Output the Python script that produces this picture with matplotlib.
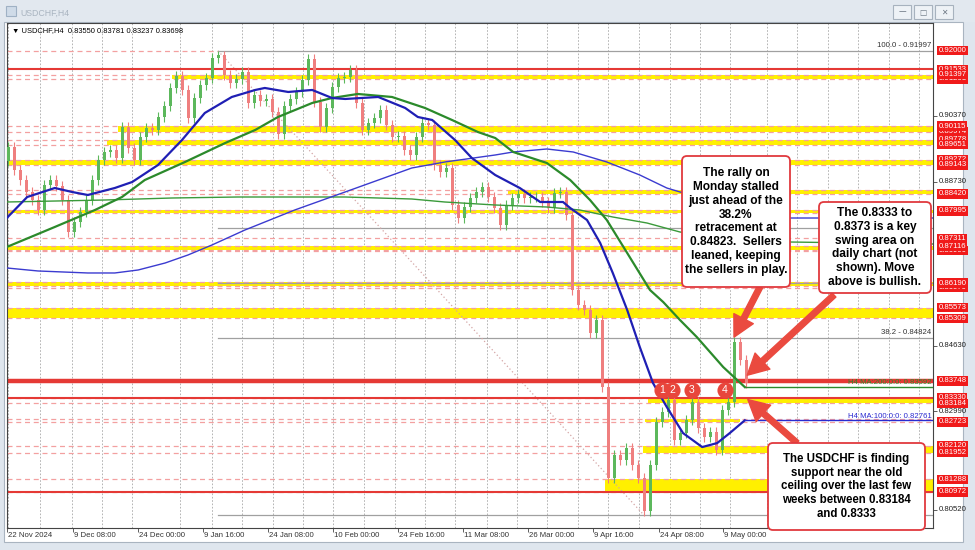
import numpy as np
import matplotlib.pyplot as plt
import matplotlib.transforms as mtransforms
from matplotlib.patches import Rectangle, FancyBboxPatch

plt.rcParams['font.family'] = ['Liberation Sans', 'DejaVu Sans']

W, H = 975, 550
BAR_PX, BAR0_PX = 6, 8   # one drawn candle every 6 px, first one at x=8

# USDCHF H4, closes (one per ~6 px column)
closes = [
    0.8959, 0.8902, 0.8877, 0.8847, 0.8827, 0.8802, 0.8864, 0.8877, 0.8862, 0.8827,
    0.8747, 0.8772, 0.8797, 0.8827, 0.8877, 0.8927, 0.8947, 0.8952, 0.8932, 0.9009,
    0.8957, 0.8927, 0.8984, 0.9007, 0.9002, 0.9034, 0.9062, 0.9107, 0.9137, 0.9102,
    0.9032, 0.9082, 0.9114, 0.9132, 0.9182, 0.9188, 0.9139, 0.9119, 0.9129, 0.9147,
    0.9069, 0.9089, 0.9074, 0.9079, 0.9047, 0.8992, 0.9062, 0.9079, 0.9097, 0.9127,
    0.9180, 0.9072, 0.9009, 0.9057, 0.9109, 0.9132, 0.9134, 0.9152, 0.9069, 0.9002,
    0.9019, 0.9032, 0.9052, 0.9014, 0.8984, 0.8987, 0.8952, 0.8939, 0.8984, 0.9019,
    0.9014, 0.8914, 0.8897, 0.8907, 0.8814, 0.8782, 0.8809, 0.8832, 0.8847, 0.8859,
    0.8834, 0.8807, 0.8764, 0.8814, 0.8832, 0.8842, 0.8832, 0.8834, 0.8834, 0.8822,
    0.8807, 0.8844, 0.8847, 0.8789, 0.8602, 0.8564, 0.8552, 0.8494, 0.8527, 0.8359,
    0.8132, 0.8189, 0.8177, 0.8207, 0.8164, 0.8132, 0.8050, 0.8164, 0.8272, 0.8297,
    0.8327, 0.8227, 0.8244, 0.8277, 0.8322, 0.8257, 0.8234, 0.8247, 0.8202, 0.8302,
    0.8322, 0.8472, 0.8427, 0.8370,
]
first_open = 0.8925
wick = 0.0012

# moving averages (bar index, price)
ma100_bars = [-0.2, 3.2, 7.8, 10.7, 13.3, 17.8, 20.7, 25.0, 29.0, 32.8, 37.3, 41.2, 42.8,
              46.7, 50.7, 54.0, 56.2, 61.7, 66.2, 68.3, 70.7, 74.5, 77.3, 81.2, 85.3,
              88.7, 92.5, 93.7, 96.5, 98.7, 100.8, 103.2, 105.3, 107.5, 109.8, 112.5,
              115.7, 118.2, 120.3, 122.8]
ma100_vals = [0.87818, 0.88343, 0.88568, 0.88468, 0.88393, 0.88568, 0.88718, 0.89143,
              0.89768, 0.90443, 0.90843, 0.91018, 0.91068, 0.90968, 0.91018, 0.90818,
              0.90793, 0.90843, 0.90568, 0.90343, 0.90268, 0.89768, 0.89318, 0.88893,
              0.88568, 0.88218, 0.88218, 0.88068, 0.87768, 0.87193, 0.86443, 0.85518,
              0.84593, 0.83693, 0.83093, 0.82443, 0.82093, 0.82193, 0.82443, 0.82761]
ma200_bars = [-0.2, 7.8, 14.5, 19.0, 22.8, 29.5, 36.2, 41.2, 45.0, 50.7, 54.0, 58.3, 64.0,
              69.5, 74.0, 78.3, 81.2, 84.2, 89.8, 93.7, 97.0, 99.8, 103.2, 107.0, 109.2,
              112.0, 114.8, 119.2, 122.8]
ma200_vals = [0.87094, 0.87594, 0.88019, 0.88343, 0.88768, 0.89218, 0.89693, 0.90018,
              0.90343, 0.90693, 0.90818, 0.90918, 0.90843, 0.90568, 0.90268, 0.89968,
              0.89818, 0.89468, 0.89193, 0.88768, 0.88268, 0.87768, 0.86943, 0.86018,
              0.85718, 0.85268, 0.84843, 0.84093, 0.83592]
d_ma_blue_bars = [-0.2, 5.0, 13.3, 17.8, 21.7, 26.2, 30.0, 34.0, 39.5, 47.8, 56.2, 67.3,
                  72.8, 81.2, 84.2, 89.8, 94.2, 99.8, 105.3, 109.8, 112.0, 118.7, 125.3,
                  130.3, 154.2]
d_ma_blue_vals = [0.86569, 0.86494, 0.86444, 0.86444, 0.86519, 0.86694, 0.86894, 0.87144,
                  0.87519, 0.88019, 0.88469, 0.89068, 0.89218, 0.89393, 0.89468, 0.89543,
                  0.89468, 0.89218, 0.88893, 0.88568, 0.88468, 0.88193, 0.87943, 0.87818,
                  0.87818]
d_ma_green_bars = [-0.2, 16.2, 27.3, 38.3, 56.2, 67.3, 72.8, 81.2, 89.8, 95.3, 100.8,
                   106.5, 112.0, 118.7, 130.3, 154.2]
d_ma_green_vals = [0.88218, 0.88268, 0.88318, 0.88343, 0.88343, 0.88293, 0.88218, 0.88143,
                   0.88093, 0.88018, 0.87843, 0.87693, 0.87468, 0.87318, 0.87218, 0.87168]

# fibonacci retracement of the Jan high -> Apr low
fib_hi, fib_lo = 0.91997, 0.80390
fib_ratios = [0.0, 0.382, 0.5, 0.618, 1.0]
fib_labelled = [0.382, 1.0]   # the others sit behind the note boxes

# yellow zones: (low, high, first bar, last bar)  None = chart edge
zones = [
    (0.91293, 0.91397, 27.3, None), (0.89974, 0.90115, 18.3, None),
    (0.89651, 0.89778, 16.5, None), (0.89143, 0.89272, None, None),
    (0.88420, 0.88520, 83.3, None), (0.87940, 0.88030, None, None),
    (0.87020, 0.87116, None, None), (0.86110, 0.86215, None, None),
    (0.85309, 0.85573, None, None), (0.83184, 0.83330, 106.7, None),
    (0.82723, 0.82790, 106.2, 122.0), (0.81952, 0.82120, 105.8, None),
    (0.80972, 0.81288, 99.5, None),
]
extra_dashed = [0.87311, 0.86999, 0.86079]
red_lines = [(0.91533, 1.5), (0.83748, 3.2), (0.83330, 1.5), (0.80972, 1.5)]
key_top, key_ceiling = 0.83748, 0.83330
touch_bars = [109, 110.7, 114, 119.5]

date_labels = ["22 Nov 2024", "9 Dec 08:00", "24 Dec 00:00", "9 Jan 16:00", "24 Jan 08:00",
               "10 Feb 00:00", "24 Feb 16:00", "11 Mar 08:00", "26 Mar 00:00",
               "9 Apr 16:00", "24 Apr 08:00", "9 May 00:00"]
date_px = [7, 73, 138, 203, 268, 333, 398, 463, 528, 593, 659, 723]
week_px = [8, 40, 72, 102, 132, 180, 212, 242, 273, 303, 333, 364, 395, 425, 455, 487,
           517, 547, 578, 608, 639, 670, 700, 730, 767, 797, 828, 858, 889, 919]

grid_prices = [0.90370, 0.88730, 0.84630, 0.82990, 0.80520]
red_back = [0.91533, 0.91293, 0.89974, 0.89778, 0.89272, 0.86999, 0.86079, 0.83330]
red_front = [0.92000, 0.91397, 0.90115, 0.89651, 0.89143, 0.88420, 0.87995, 0.87311,
             0.87116, 0.86190, 0.85573, 0.85309, 0.83748, 0.83184, 0.82723, 0.82120,
             0.81952, 0.81288, 0.80972]

RED = '#e53935'
ARROW = '#ea4a3f'


def bx(px):
    return (px - BAR0_PX) / BAR_PX


fig = plt.figure(figsize=(W / 100, H / 100), dpi=100, facecolor='#dfe6ee')
pix = mtransforms.Affine2D().scale(1 / W, 1 / H) + fig.transFigure  # pixels, y up


def prect(x, y, w, h, **kw):
    fig.add_artist(Rectangle((x, H - y - h), w, h, transform=pix, **kw))


# window chrome
prect(0, 0, W, 22, fc='#e2e8ef', ec='none', zorder=-5)
prect(6, 6, 10, 10, fc='#cfdbe8', ec='#9fb1c4', lw=0.8, zorder=-4)
fig.text(20 / W, 1 - 13 / H, "USDCHF,H4", fontsize=6.3, color='#a9b4c0', va='center')
for i, sym in enumerate(['\u2014', '\u25a1', '\u2715']):
    prect(893 + i * 21, 5, 18, 14, fc='#eef2f6', ec='#a7b2be', lw=0.8, zorder=-4)
    fig.text((902 + i * 21) / W, 1 - 12 / H, sym, fontsize=5.5, color='#6b7682',
             ha='center', va='center', family=['DejaVu Sans'])
prect(4, 22, 959, 520, fc='white', ec='#a9b4c0', lw=0.8, zorder=-3)

ax = fig.add_axes([7 / W, 1 - 528 / H, (933 - 7) / W, (528 - 23) / H])
ax.set_xlim(bx(7), bx(933))
ax.set_ylim(0.80070, 0.92692)
for s in ax.spines.values():
    s.set_color('#444444')
    s.set_linewidth(0.8)
ax.set_xticks([bx(p) for p in date_px])
ax.set_yticks(grid_prices)
ax.tick_params(axis='x', length=3, width=0.6, color='#444444', labelbottom=False)
ax.tick_params(axis='y', left=False, right=True, length=3, width=0.6, color='#444444',
               labelleft=False)

# weekly grid
for p in week_px:
    ax.axvline(bx(p), color='#a8a8a8', lw=0.6, ls=(0, (2, 2)), zorder=0.5)

# yellow zones with dashed borders
x_left, x_right = ax.get_xlim()
for lo, hi, b0, b1 in zones:
    a = x_left if b0 is None else b0
    b = x_right if b1 is None else b1
    ax.fill_between([a, b], lo, hi, color='#fff000', lw=0, zorder=1)
    for lv in (lo, hi):
        ax.axhline(lv, color='#f3a0a0', lw=0.9, ls=(0, (4, 3)), zorder=1.2)
for lv in extra_dashed:
    ax.axhline(lv, color='#f3a0a0', lw=0.9, ls=(0, (4, 3)), zorder=1.2)

# fibonacci
hi_i = int(np.argmax(closes))
lo_i = int(np.argmin(closes))
ax.plot([x_left, hi_i], [fib_hi, fib_hi], color='#f3a0a0', lw=0.9, ls=(0, (4, 3)), zorder=1.2)
for r in fib_ratios:
    lv = fib_lo + r * (fib_hi - fib_lo)
    ax.plot([hi_i, x_right], [lv, lv], color='#a0a0a0', lw=0.9, zorder=1.3)
    if r in fib_labelled:
        ax.text(0.998, lv + 0.0004, f"{r * 100:.1f} - {lv:.5f}",
                transform=ax.get_yaxis_transform(), ha='right', va='bottom',
                fontsize=5.6, color='#333333', zorder=1.4)
ax.plot([hi_i, lo_i], [fib_hi, fib_lo], color='#d4a5a5', lw=0.9, ls=(0, (1, 2)), zorder=1.3)

for lv, w in red_lines:
    ax.axhline(lv, color=RED, lw=w, zorder=2.5)

# candles
opens = [first_open] + closes[:-1]
for i, (o, c) in enumerate(zip(opens, closes)):
    col = '#5cb85c' if c >= o else '#ef7f7f'
    ax.vlines(i, min(o, c) - wick, max(o, c) + wick, color=col, lw=0.8, zorder=3)
    ax.bar(i, max(abs(c - o), 0.00012), bottom=min(o, c), width=0.5, color=col, lw=0, zorder=3)

# moving averages
ax.plot(d_ma_green_bars, d_ma_green_vals, color='#3a9a3a', lw=1.0, zorder=3.5)
ax.plot(d_ma_blue_bars, d_ma_blue_vals, color='#3b3bd0', lw=1.0, zorder=3.5)
ax.plot(ma200_bars, ma200_vals, color='#2b8a2b', lw=1.6, zorder=4)
ax.plot(ma100_bars, ma100_vals, color='#1f1fb4', lw=1.6, zorder=4)
ax.plot([ma200_bars[-1], x_right], [ma200_vals[-1]] * 2, color='#2b8a2b', lw=1.0, zorder=4)
ax.plot([ma100_bars[-1], x_right], [ma100_vals[-1]] * 2, color='#2a2ad0', lw=1.0, zorder=4)
ax.text(0.999, ma200_vals[-1] + 0.0002, f"H4 MA:200:0:0: {ma200_vals[-1]:.5f}",
        transform=ax.get_yaxis_transform(), ha='right', va='bottom', fontsize=5.6,
        color='#2b8a2b', zorder=4)
ax.text(0.999, ma100_vals[-1] + 0.0002, f"H4 MA:100:0:0: {ma100_vals[-1]:.5f}",
        transform=ax.get_yaxis_transform(), ha='right', va='bottom', fontsize=5.6,
        color='#2a2ad0', zorder=4)

# header
ax.text(0.005, 0.986, "\u25bc USDCHF,H4  0.83550 0.83781 0.83237 0.83698", transform=ax.transAxes,
        ha='left', va='center', fontsize=5.4, color='black', zorder=6)

# touches of the old ceiling
for n, b in enumerate(touch_bars, start=1):
    ax.scatter([b], [key_ceiling + 0.0019], s=135, color='#e8463c', zorder=6, lw=0)
    ax.text(b, key_ceiling + 0.0019, str(n), color='white', fontsize=7.5, ha='center',
            va='center', zorder=7)

# right-hand price labels
ytr = ax.get_yaxis_transform()
for p in grid_prices:
    ax.text(1.006, p, f"{p:.5f}", transform=ytr, ha='left', va='center', fontsize=5.6,
            color='#222222', clip_on=False)
for p in red_back + red_front:
    ax.text(1.006, p, f"{p:.5f}", transform=ytr, ha='left', va='center', fontsize=5.6,
            color='white', clip_on=False,
            bbox=dict(boxstyle='square,pad=0.15', fc='#f01a1a', ec='none'))

# dates
xtr = ax.get_xaxis_transform()
for lab, p in zip(date_labels, date_px):
    ax.text(bx(p) + 0.1, -0.008, lab, transform=xtr, ha='left', va='top', fontsize=5.6,
            color='#333333', clip_on=False)

# arrows (from the text boxes to the price action)
last_i = len(closes) - 1
spike_i = int(np.argmax(closes[-6:])) + len(closes) - 6
arrows = [((760, 287), (spike_i, closes[spike_i] + wick)),
          ((834, 295), (last_i + 0.2, key_top + 0.0014)),
          ((797, 443), (last_i + 0.3, key_ceiling - 0.0005))]
for (sx, sy), xy in arrows:
    ax.annotate('', xy=xy, xycoords='data', xytext=(sx / W, 1 - sy / H),
                textcoords='figure fraction', annotation_clip=False, zorder=8,
                arrowprops=dict(arrowstyle='simple,head_length=1.0,head_width=1.05,tail_width=0.27',
                                color=ARROW, mutation_scale=15, shrinkA=0, shrinkB=0))

# text boxes
boxes = [
    ((682, 156, 790, 287), "The rally on\nMonday stalled\njust ahead of the\n38.2%\nretracement at\n"
     "0.84823.  Sellers\nleaned, keeping\nthe sellers in play.", 8.6),
    ((819, 202, 931, 293), "The 0.8333 to\n0.8373 is a key\nswing area on\ndaily chart (not\n"
     "shown). Move\nabove is bullish.", 8.6),
    ((768, 443, 925, 530), "The USDCHF is finding\nsupport near the old\nceiling over the last few\n"
     "weeks between 0.83184\nand 0.8333", 8.3),
]
for (x0, y0, x1, y1), txt, fs in boxes:
    fig.add_artist(FancyBboxPatch((x0, H - y1), x1 - x0, y1 - y0,
                                  boxstyle='round,pad=0,rounding_size=5', transform=pix,
                                  fc='white', ec='#e0393e', lw=1.3, zorder=9))
    fig.text((x0 + x1) / 2 / W, 1 - (y0 + y1) / 2 / H, txt, ha='center', va='center',
             multialignment='center', fontsize=fs, weight='bold', color='black',
             linespacing=1.2, zorder=10)

fig.savefig('out.png', dpi=100, facecolor=fig.get_facecolor())
